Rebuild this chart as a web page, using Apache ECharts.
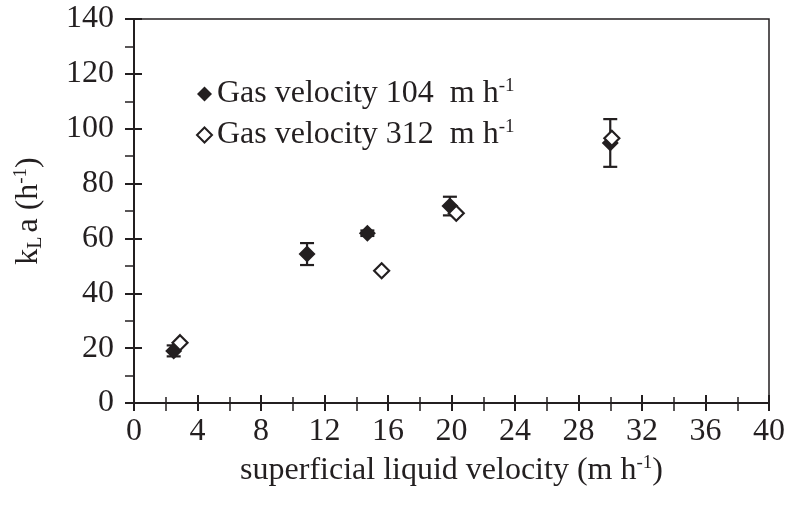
<!DOCTYPE html>
<html>
<head>
<meta charset="utf-8">
<script src="https://cdn.jsdelivr.net/npm/echarts@6/dist/echarts.min.js"></script>
<style>
  html, body { margin: 0; padding: 0; background: #fff; }
  #main { width: 791px; height: 512px; }
</style>
</head>
<body>
<div id="main"></div>
<script>
// gas velocity 104 m/h (filled diamonds)
var liqVel104 = [2.5, 10.9, 14.7, 19.9, 30.0];
var kla104 = [19.0, 54.3, 61.9, 71.8, 94.8];
var err104 = [2.0, 4.0, 1.0, 3.4, 8.7];
// gas velocity 312 m/h (open diamonds)
var liqVel312 = [2.9, 15.6, 20.3, 30.1];
var kla312 = [22.0, 48.2, 69.2, 96.5];

var xTicks = [0, 40, 4];
var yTicks = [0, 140, 20];

var FONT = '"Liberation Serif", "DejaVu Serif", serif';
var INK = '#231f20';

function pairs(xs, ys) {
  return xs.map(function (x, i) { return [x, ys[i]]; });
}

var errData = liqVel104.map(function (x, i) {
  return [x, kla104[i] - err104[i], kla104[i] + err104[i]];
});

var richText = {
  n: { fontFamily: FONT, fontSize: 32, color: INK, lineHeight: 34 },
  sup: { fontFamily: FONT, fontSize: 19, color: INK, verticalAlign: 'top', lineHeight: 34, padding: [0, 0, 12, 0] },
  sub: { fontFamily: FONT, fontSize: 20, color: INK, verticalAlign: 'bottom', lineHeight: 34, padding: [12, 4, 0, 0] }
};

var chart = echarts.init(document.getElementById('main'), null, { renderer: 'canvas' });

var baseAxis = {
  axisLine: { lineStyle: { color: INK, width: 2 } },
  splitLine: { show: false }
};

var option = {
  backgroundColor: '#ffffff',
  animation: false,
  grid: {
    left: 134, right: 22, top: 19, bottom: 109,
    show: true, borderColor: INK, borderWidth: 1.5, backgroundColor: 'transparent'
  },
  legend: {
    left: 191, top: 72, orient: 'vertical', itemGap: 8,
    itemWidth: 15, itemHeight: 15,
    data: [
      { name: 'Gas velocity 104', icon: 'diamond' },
      { name: 'Gas velocity 312', icon: 'diamond' }
    ],
    formatter: function (name) {
      return '{n|' + name + '  m h}{sup|-1}';
    },
    textStyle: { rich: richText }
  },
  xAxis: [
    Object.assign({}, baseAxis, {
      type: 'value', min: xTicks[0], max: xTicks[1], interval: xTicks[2],
      axisTick: { show: true, inside: false, length: 8, lineStyle: { color: INK, width: 2 } },
      minorTick: { show: true, splitNumber: 2, length: 8, lineStyle: { color: INK, width: 1.5 } },
      axisLabel: { color: INK, fontFamily: FONT, fontSize: 32, margin: 13 },
      name: '{n|superficial liquid velocity (m h}{sup|-1}{n|)}',
      nameLocation: 'middle', nameGap: 51,
      nameTextStyle: { rich: richText }
    }),
    Object.assign({}, baseAxis, {
      type: 'value', min: xTicks[0], max: xTicks[1], interval: xTicks[2], position: 'bottom',
      axisTick: { show: true, inside: true, length: 8, lineStyle: { color: INK, width: 2 } },
      minorTick: { show: true, splitNumber: 2, length: 6, lineStyle: { color: INK, width: 1.5 } },
      axisLabel: { show: false }
    })
  ],
  yAxis: [
    Object.assign({}, baseAxis, {
      type: 'value', min: yTicks[0], max: yTicks[1], interval: yTicks[2],
      axisTick: { show: true, inside: false, length: 9, lineStyle: { color: INK, width: 2 } },
      minorTick: { show: true, splitNumber: 2, length: 9, lineStyle: { color: INK, width: 1.5 } },
      axisLabel: { color: INK, fontFamily: FONT, fontSize: 32, margin: 20 },
      name: '{n|k}{sub|L}{n|a (h}{sup|-1}{n|)}',
      nameLocation: 'middle', nameGap: 88, nameRotate: 90,
      nameTextStyle: { rich: richText }
    }),
    Object.assign({}, baseAxis, {
      type: 'value', min: yTicks[0], max: yTicks[1], interval: yTicks[2], position: 'left',
      axisTick: { show: true, inside: true, length: 8, lineStyle: { color: INK, width: 2 } },
      minorTick: { show: false },
      axisLabel: { show: false }
    })
  ],
  series: [
    {
      name: 'err104',
      type: 'custom',
      z: 3,
      data: errData,
      renderItem: function (params, api) {
        var x = api.value(0);
        var lo = api.coord([x, api.value(1)]);
        var hi = api.coord([x, api.value(2)]);
        var hw = 7;
        var st = { stroke: INK, lineWidth: 2.2 };
        return {
          type: 'group',
          children: [
            { type: 'line', shape: { x1: hi[0], y1: hi[1], x2: lo[0], y2: lo[1] }, style: st },
            { type: 'line', shape: { x1: hi[0] - hw, y1: hi[1], x2: hi[0] + hw, y2: hi[1] }, style: st },
            { type: 'line', shape: { x1: lo[0] - hw, y1: lo[1], x2: lo[0] + hw, y2: lo[1] }, style: st }
          ]
        };
      }
    },
    {
      name: 'Gas velocity 104',
      type: 'scatter',
      symbol: 'diamond',
      symbolSize: 17,
      z: 4,
      itemStyle: { color: INK, opacity: 1 },
      data: pairs(liqVel104, kla104)
    },
    {
      name: 'Gas velocity 312',
      type: 'scatter',
      symbol: 'diamond',
      symbolSize: 15,
      z: 5,
      itemStyle: { color: '#ffffff', borderColor: INK, borderWidth: 2.2, opacity: 1 },
      data: pairs(liqVel312, kla312)
    }
  ]
};

chart.setOption(option);
</script>
</body>
</html>
